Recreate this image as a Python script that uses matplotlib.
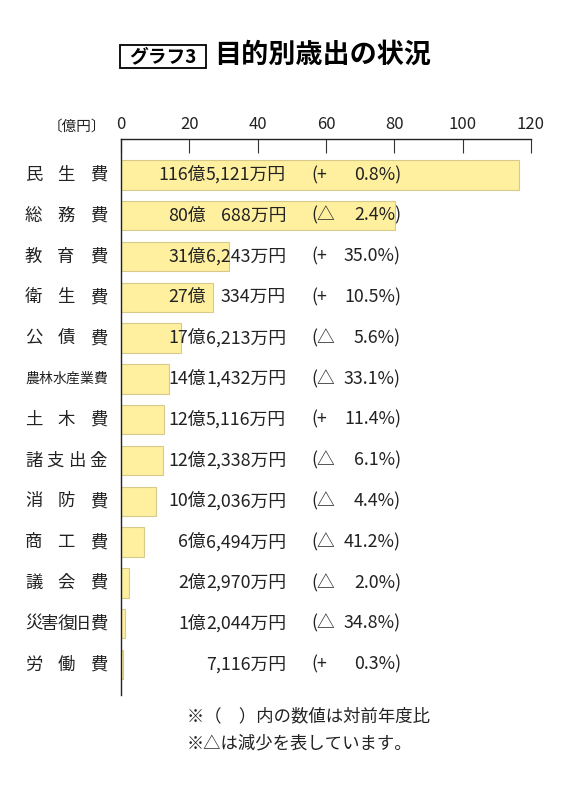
import numpy as np
import matplotlib
matplotlib.use("Agg")
import matplotlib.pyplot as plt
import matplotlib.transforms as mtransforms
from matplotlib.patches import Rectangle

plt.rcParams["font.family"] = ["Noto Sans CJK JP", "DejaVu Sans"]

# data (億円)
categories = ["民生費", "総務費", "教育費", "衛生費", "公債費", "農林水産業費", "土木費",
              "諸支出金", "消防費", "商工費", "議会費", "災害復旧費", "労働費"]
oku = [116, 80, 31, 27, 17, 14, 12, 12, 10, 6, 2, 1, 0]
man = [5121, 688, 6243, 334, 6213, 1432, 5116, 2338, 2036, 6494, 2970, 2044, 7116]
change = [0.8, -2.4, 35.0, 10.5, -5.6, -33.1, 11.4, -6.1, -4.4, -41.2, -2.0, -34.8, 0.3]
values = [o + m / 10000 for o, m in zip(oku, man)]
xticks = [0, 20, 40, 60, 80, 100, 120]

W, H = 565, 800
fig = plt.figure(figsize=(W / 100, H / 100), dpi=100)
ax = fig.add_axes([121 / W, 1 - 695 / H, 410 / W, 556 / H])

y = np.arange(len(categories))
ax.barh(y, values, height=0.72, color="#FFF0A0", edgecolor="#D6C98A", linewidth=0.8)
ax.set_xlim(0, 120)
ax.set_ylim(12.745, -0.88)

for s in ["right", "bottom"]:
    ax.spines[s].set_visible(False)
for s in ["left", "top"]:
    ax.spines[s].set_linewidth(1.0)
    ax.spines[s].set_color("#222222")
ax.set_yticks([])
ax.xaxis.tick_top()
ax.set_xticks(xticks)
ax.tick_params(axis="x", direction="in", length=10, width=0.8, color="#333333",
               labelsize=12, pad=4, labelcolor="#222222")


def fx(x):
    return x / W


def fy(y):
    return 1 - y / H


trans = mtransforms.blended_transform_factory(fig.transFigure, ax.transData)
txt = "#222222"

fig.text(fx(106), fy(127), "〔億円〕", ha="right", va="center", fontsize=10.5, color=txt)

# category labels, spread over the same width
left, right = 25, 107
for i, name in enumerate(categories):
    fs = 10 if len(name) >= 6 else 12.5
    cw = fs * 100 / 72
    xs = np.linspace(left + cw / 2, right - cw / 2, len(name))
    for ch, xc in zip(name, xs):
        ax.text(fx(xc), i, ch, transform=trans, ha="center", va="center",
                fontsize=fs, color=txt)

# value labels
fs_val = 12.8
renderer = fig.canvas.get_renderer()
tmp = fig.text(0, 0, "0,000万円", fontsize=fs_val)
wref = tmp.get_window_extent(renderer=renderer).width
tmp.remove()

man_right = 286
for i in range(len(categories)):
    ax.text(fx(man_right), i, f"{man[i]:,}万円", transform=trans, ha="right",
            va="center", fontsize=fs_val, color=txt)
    if oku[i] > 0:
        ax.text(fx(man_right - wref), i, f"{oku[i]}億", transform=trans, ha="right",
                va="center", fontsize=fs_val, color=txt)
    sign = "+" if change[i] >= 0 else "△"
    ax.text(fx(311), i, f"({sign}", transform=trans, ha="left", va="center",
            fontsize=fs_val, color=txt)
    ax.text(fx(401), i, f"{abs(change[i]):.1f}%)", transform=trans, ha="right",
            va="center", fontsize=fs_val, color=txt)

# title
fig.patches.append(Rectangle((fx(120), fy(68)), fx(86), 23 / H, transform=fig.transFigure,
                             facecolor="white", edgecolor="black", linewidth=1.3))
fig.text(fx(163), fy(56.5), "グラフ3", ha="center", va="center", fontsize=13.5,
         fontweight="bold", color="black")
fig.text(fx(214), fy(55), "目的別歳出の状況", ha="left", va="center", fontsize=19.5,
         fontweight="bold", color="black")

# notes
fig.text(fx(187), fy(716), "※（　）内の数値は対前年度比", ha="left", va="center",
         fontsize=12.5, color=txt)
fig.text(fx(187), fy(743), "※△は減少を表しています。", ha="left", va="center",
         fontsize=12.5, color=txt)

fig.savefig("out.png", dpi=100)
